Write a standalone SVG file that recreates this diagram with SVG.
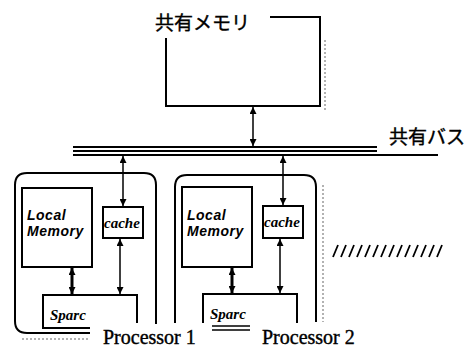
<svg xmlns="http://www.w3.org/2000/svg" width="473" height="348" viewBox="0 0 473 348">
<style>
.ln{fill:none;stroke:#000;stroke-width:2}
.box{fill:#fff;stroke:#000;stroke-width:2}
.thin{fill:none;stroke:#000;stroke-width:1.5}
.sh{fill:none;stroke:#999;stroke-width:1.5;stroke-dasharray:2 2}
.jp{font-family:"Noto Sans CJK JP","Noto Sans",sans-serif;font-size:19px;fill:#000;stroke:#000;stroke-width:0.4}
.it{font-family:"Liberation Serif",serif;font-style:italic;font-weight:bold;font-size:15px;fill:#000}
.lm{font-family:"Liberation Sans",sans-serif;font-style:italic;font-weight:bold;font-size:14px;letter-spacing:0.5px;fill:#000}
.pr{font-family:"Liberation Serif",serif;font-size:20px;fill:#000;stroke:#000;stroke-width:0.4}
.ar{fill:none;stroke:#000;stroke-width:1.5;marker-start:url(#ah);marker-end:url(#ah)}
.art{fill:none;stroke:#000;stroke-width:3;marker-start:url(#ah);marker-end:url(#ah)}
</style>
<defs>
<marker id="ah" viewBox="0 0 10 10" refX="10" refY="5" markerWidth="10" markerHeight="7" markerUnits="userSpaceOnUse" orient="auto-start-reverse">
<path d="M0,0 L10,5 L0,10 z" fill="#000"/>
</marker>
</defs>
<rect width="473" height="348" fill="#fff"/>

<g id="shared-memory">
<path class="ln" d="M270,17 H320 V106 H166 V38"/>
<path class="sh" d="M325,40 V112"/>
<text class="jp" x="155" y="30">共有メモリ</text>
</g>

<g id="shared-bus">
<path class="ln" d="M73,147 H377 M73,151 H377 M73,155 H438"/>
<text class="jp" x="389" y="144">共有バス</text>
</g>

<g id="processor1">
<path class="ln" d="M156,324 V185 Q156,173 144,173 H27 Q15,173 15,185 V321 Q15,333 27,333 H90"/>
<path class="sh" d="M22,339 H90"/>
<rect class="box" x="22" y="188" width="70" height="79"/>
<text class="lm" x="27" y="220">Local</text>
<text class="lm" x="27" y="236">Memory</text>
<rect class="box" x="103" y="207" width="40" height="31"/>
<text class="it" x="104" y="228">cache</text>
<path class="ln" d="M137,323 V295 H43 V328 H90"/>
<text class="it" x="50" y="320" font-size="16">Sparc</text>
<text class="pr" x="103" y="344">Processor 1</text>
</g>

<g id="processor2">
<path class="ln" d="M175,323 V187 Q175,175 187,175 H304 Q316,175 316,187 V322"/>
<path class="sh" d="M323,185 V322"/>
<rect class="box" x="182" y="187" width="70" height="80"/>
<text class="lm" x="187" y="220">Local</text>
<text class="lm" x="187" y="236">Memory</text>
<rect class="box" x="263" y="206" width="40" height="32"/>
<text class="it" x="264" y="227">cache</text>
<path class="ln" d="M297,323 V294 H203 V323"/>
<text class="it" x="210" y="319" font-size="16">Sparc</text>
<path class="thin" d="M212,326 H250 M212,330 H250"/>
<text class="pr" x="262" y="344">Processor 2</text>
</g>

<g id="hatch" stroke="#000" stroke-width="1.8">
<path d="M333,257 L338,245 M341,257 L346,245 M349,257 L354,245 M357,257 L362,245 M365,257 L370,245 M373,257 L378,245 M381,257 L386,245 M389,257 L394,245 M397,257 L402,245 M405,257 L410,245 M413,257 L418,245 M421,257 L426,245 M429,257 L434,245 M437,257 L442,245"/>
</g>

<g id="connectors">
<path class="ar" d="M253,107 V146"/>
<path class="ar" d="M123,156 V206"/>
<path class="ar" d="M120,239 V294"/>
<path class="art" d="M72,268 V294"/>
<path class="ar" d="M283,156 V205"/>
<path class="ar" d="M280,239 V293"/>
<path class="art" d="M232,268 V293"/>
</g>
</svg>
